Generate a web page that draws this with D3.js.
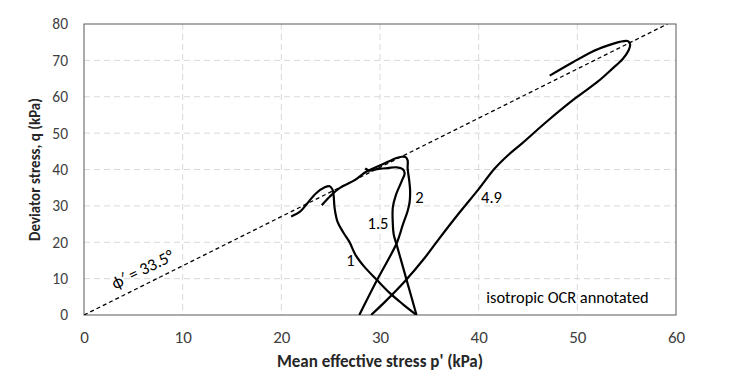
<!DOCTYPE html>
<html>
<head>
<meta charset="utf-8">
<script src="https://cdn.jsdelivr.net/npm/d3@7"></script>
<style>
  html, body { margin: 0; padding: 0; background: #fff; }
  svg { display: block; font-family: Carlito, "Open Sans", "Liberation Sans", sans-serif; }
</style>
</head>
<body>
<svg id="chart" width="745" height="385"></svg>
<script>
/* undrained stress paths, isotropic OCR */

const xTicks = [0, 10, 20, 30, 40, 50, 60];
const yTicks = [0, 10, 20, 30, 40, 50, 60, 70, 80];

// critical state line slope (phi' = 33.5 deg)
const cslM = 1.353;
const cslLabel = 'ϕ′ = 33.5°';

// each path is [p', q]
const path1 = [[33.7, 0], [32.3, 3], [31.0, 6.0], [29.7, 9.6], [28.4, 13.3], [27.5, 16.6], [26.9, 20.1],
  [26.3, 22.6], [25.7, 25.6], [25.4, 29.4], [25.3, 32.9], [25.2, 34.4], [24.9, 35.4], [24.4, 35.1],
  [23.5, 33.4], [22.6, 30.6], [21.9, 28.4], [21.0, 27.1]];
const path15 = [[33.7, 0], [32.7, 9.6], [31.7, 19.2], [31.4, 22.0], [31.3, 25.0], [31.3, 29.6], [31.6, 32.9],
  [32.2, 36.8], [32.5, 39.0], [32.3, 40.1], [31.7, 40.6], [30.8, 40.4], [29.7, 40.1], [28.9, 39.7], [28.5, 40.3]];
const path2 = [[27.9, 0], [29.7, 9.6], [31.7, 19.8], [32.3, 24.7], [32.8, 28.6], [33.0, 31.0], [33.05, 34.3],
  [32.95, 37.2], [32.8, 40.3], [32.8, 42.5], [32.6, 43.4], [32.2, 43.5], [31.6, 43.1], [30.8, 42.1],
  [29.4, 40.4], [28.6, 39.4], [27.4, 37.0], [25.9, 34.9], [24.9, 32.5], [24.1, 30.2]];
const path49 = [[29.1, 0], [30.5, 3.6], [32.5, 9.2], [34.5, 15.6], [36.0, 21.0], [38.1, 28.3], [40.0, 34.6],
  [41.6, 40.2], [43.0, 44.0], [44.4, 47.2], [47.0, 53.4], [49.9, 59.8], [52.0, 64.0], [53.5, 67.6],
  [54.6, 70.4], [55.2, 72.8], [55.35, 74.4], [55.1, 75.3], [54.3, 75.1], [53.0, 74.0], [51.5, 72.4],
  [49.5, 69.4], [47.2, 65.8]];

const pathLabels = [
  { text: '1', p: 27.0, q: 15.0 },
  { text: '1.5', p: 29.8, q: 25.2 },
  { text: '2', p: 34.0, q: 32.4 },
  { text: '4.9', p: 41.3, q: 32.5 }
];
const noteText = 'isotropic OCR annotated';

const svg = d3.select('#chart');
const margin = { left: 84, right: 69, top: 24, bottom: 70 };
const width = 745 - margin.left - margin.right;
const height = 385 - margin.top - margin.bottom;

const x = d3.scaleLinear().domain([0, 60]).range([0, width]);
const y = d3.scaleLinear().domain([0, 80]).range([height, 0]);

const g = svg.append('g').attr('transform', `translate(${margin.left},${margin.top})`);

g.append('defs').append('clipPath').attr('id', 'clip')
  .append('rect').attr('width', width).attr('height', height);

// gridlines
g.append('g').selectAll('line').data(xTicks.slice(1, -1)).join('line')
  .attr('x1', d => x(d)).attr('x2', d => x(d)).attr('y1', 0).attr('y2', height)
  .attr('stroke', '#d9d9d9').attr('stroke-width', 1).attr('stroke-dasharray', '6,4');
g.append('g').selectAll('line').data(yTicks.slice(1, -1)).join('line')
  .attr('y1', d => y(d)).attr('y2', d => y(d)).attr('x1', 0).attr('x2', width)
  .attr('stroke', '#d9d9d9').attr('stroke-width', 1).attr('stroke-dasharray', '6,4');

// axes
const xAxis = g.append('g').attr('transform', `translate(0,${height})`)
  .call(d3.axisBottom(x).tickValues(xTicks).tickSize(0).tickPadding(16));
const yAxis = g.append('g')
  .call(d3.axisLeft(y).tickValues(yTicks).tickSize(0).tickPadding(16));
xAxis.selectAll('text').attr('font-size', '17px');
yAxis.selectAll('text').attr('font-size', '15.5px');
[xAxis, yAxis].forEach(a => {
  a.select('.domain').remove();
  a.selectAll('text').attr('fill', '#404040')
    .attr('font-family', 'Carlito, "Open Sans", sans-serif');
});

// frame
g.append('rect').attr('width', width).attr('height', height)
  .attr('fill', 'none').attr('stroke', '#595959').attr('stroke-width', 1);

const plot = g.append('g').attr('clip-path', 'url(#clip)');

// critical state line
const pEnd = 80 / cslM;
plot.append('line')
  .attr('x1', x(0)).attr('y1', y(0)).attr('x2', x(pEnd)).attr('y2', y(80))
  .attr('stroke', '#000').attr('stroke-width', 1.3).attr('stroke-dasharray', '4,3');

const line = d3.line().x(d => x(d[0])).y(d => y(d[1])).curve(d3.curveCatmullRom.alpha(0.5));
plot.append('g').selectAll('path').data([path1, path15, path2, path49]).join('path')
  .attr('d', line).attr('fill', 'none').attr('stroke', '#000')
  .attr('stroke-width', 2.2).attr('stroke-linejoin', 'round');

// path labels
g.append('g').selectAll('text').data(pathLabels).join('text')
  .attr('x', d => x(d.p)).attr('y', d => y(d.q))
  .attr('text-anchor', 'middle').attr('dominant-baseline', 'central')
  .attr('font-size', '16.5px').attr('fill', '#000')
  .text(d => d.text);

// CSL label along the line
const ang = Math.atan2(y(0) - y(cslM * 10), x(10) - x(0)) * 180 / Math.PI;
g.append('text')
  .attr('transform', `translate(${x(6.6)},${y(6.6 * cslM)}) rotate(${-ang})`)
  .attr('y', -9)
  .attr('text-anchor', 'middle').attr('font-size', '17px').attr('fill', '#000')
  .text(cslLabel);

g.append('text')
  .attr('x', x(49)).attr('y', y(0) - 18)
  .attr('text-anchor', 'middle').attr('dominant-baseline', 'central')
  .attr('font-size', '16.4px').attr('fill', '#000')
  .text(noteText);

// axis titles
svg.append('text')
  .attr('x', margin.left + width / 2).attr('y', 367)
  .attr('text-anchor', 'middle').attr('font-size', '17px').attr('font-weight', 'bold').attr('fill', '#262626')
  .text("Mean effective stress p' (kPa)");
svg.append('text')
  .attr('transform', `translate(40,${margin.top + height / 2}) rotate(-90)`)
  .attr('text-anchor', 'middle').attr('font-size', '15px').attr('font-weight', 'bold').attr('fill', '#262626')
  .text('Deviator stress, q (kPa)');
</script>
</body>
</html>
